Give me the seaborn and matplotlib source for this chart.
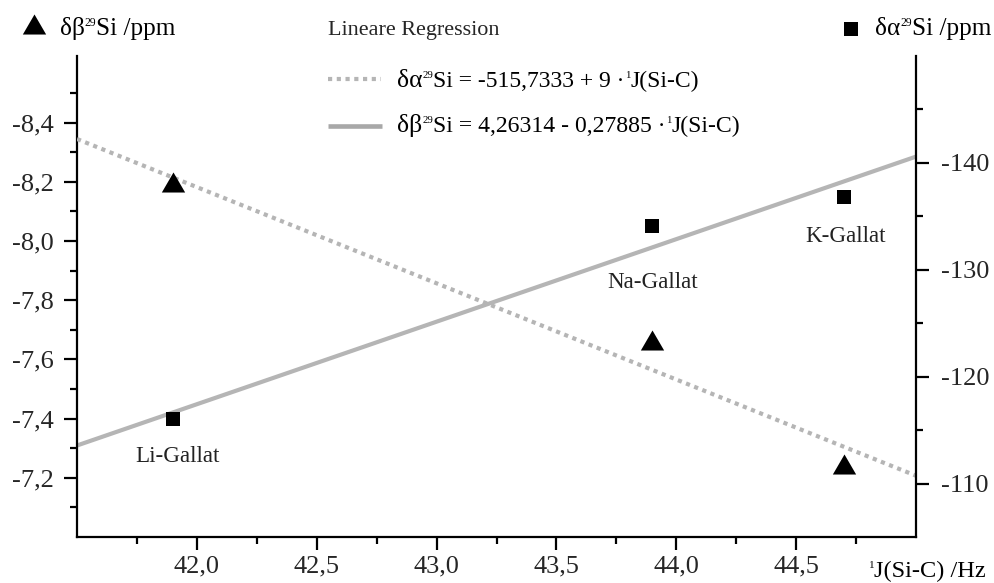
import numpy as np
import pandas as pd
import matplotlib
matplotlib.use("Agg")
import matplotlib.pyplot as plt
import seaborn as sns
from matplotlib.lines import Line2D
from matplotlib.ticker import FixedLocator, FuncFormatter

# Coupling constants 1J(Si-C) of the three gallates (Hz)
salts = ["Li-Gallat", "Na-Gallat", "K-Gallat"]
j_sic = [41.9, 43.9, 44.7]
# 29Si shifts (ppm): squares read on the left scale, triangles on the right scale
square_shift = [-7.40, -8.05, -8.15]
triangle_shift = [-138.2, -123.4, -111.8]

# Linear regressions: intercept, slope
alpha_fit = (-515.7333, 9.0)
beta_fit = (4.26314, -0.27885)
j_range = [41.5, 45.0]

left_ticks = [-8.4, -8.2, -8.0, -7.8, -7.6, -7.4, -7.2]
left_minor = [-8.5, -8.3, -8.1, -7.9, -7.7, -7.5, -7.3, -7.1]
right_ticks = [-140, -130, -120, -110]
right_minor = [-145, -135, -125, -115]
x_ticks = [42.0, 42.5, 43.0, 43.5, 44.0, 44.5]
x_minor = [41.75, 42.25, 42.75, 43.25, 43.75, 44.25, 44.75]

sns.set_style("ticks")
plt.rcParams["font.family"] = ["Liberation Serif", "DejaVu Serif"]
plt.rcParams["axes.unicode_minus"] = False

W, H = 995, 583
fig = plt.figure(figsize=(W / 100, H / 100), dpi=100)
ax = fig.add_axes([77 / W, 1 - 537 / H, (916 - 77) / W, (537 - 56) / H])
ax2 = ax.twinx()
renderer = fig.canvas.get_renderer()


def rich_text(x_px, base_px, parts, size, color="black"):
    """Write text pieces one after another; each piece is (text, scale, rise in em)."""
    x = x_px
    for s, scale, rise in parts:
        y = H - base_px + rise * size * 100 / 72
        t = fig.text(x / W, y / H, s, fontsize=size * scale, va="baseline", ha="left",
                     color=color)
        x = t.get_window_extent(renderer).x1
    return x


SUP = 0.46
RISE = 0.36

fit = pd.DataFrame({"J": j_range})
fit["beta"] = beta_fit[0] + beta_fit[1] * fit["J"]
fit["alpha"] = alpha_fit[0] + alpha_fit[1] * fit["J"]

LINE_GREY = "#b5b5b5"
sns.lineplot(data=fit, x="J", y="beta", ax=ax, color=LINE_GREY, lw=3.0,
             solid_capstyle="butt", zorder=2)
sns.lineplot(data=fit, x="J", y="alpha", ax=ax2, color=LINE_GREY, lw=3.0, zorder=2)
ax2.lines[-1].set_linestyle((0, (1.0, 1.1)))
ax2.lines[-1].set_dash_capstyle("butt")

tri = [(-1.0, -0.86), (1.0, -0.86), (0.0, 0.86)]
pts = pd.DataFrame({"salt": salts, "J": j_sic, "sq": square_shift, "tri": triangle_shift})
sns.scatterplot(data=pts, x="J", y="sq", ax=ax, marker="s", s=104, color="black",
                linewidth=0, zorder=5)
sns.scatterplot(data=pts, x="J", y="tri", ax=ax2, marker=tri, s=282, color="black",
                linewidth=0, zorder=5)

label_offsets = {"Li-Gallat": (5, -43), "Na-Gallat": (0, -62), "K-Gallat": (1, -45)}
for _, r in pts.iterrows():
    ax.annotate(r["salt"], (r["J"], r["sq"]), xytext=label_offsets[r["salt"]],
                textcoords="offset pixels", ha="center", va="baseline",
                fontsize=16.6, color="#222222", zorder=6)

# Scales run toward more negative shifts at the top
ax.set_xlim(41.5, 45.0)
ax.set_ylim(-7.0, -8.625)
ax2.set_ylim(-105, -150)

ax.xaxis.set_major_locator(FixedLocator(x_ticks))
ax.xaxis.set_minor_locator(FixedLocator(x_minor))
ax.yaxis.set_major_locator(FixedLocator(left_ticks))
ax.yaxis.set_minor_locator(FixedLocator(left_minor))
ax2.yaxis.set_major_locator(FixedLocator(right_ticks))
ax2.yaxis.set_minor_locator(FixedLocator(right_minor))

comma1 = FuncFormatter(lambda v, p: f"{v:.1f}".replace(".", ","))
ax.xaxis.set_major_formatter(comma1)
ax.yaxis.set_major_formatter(comma1)
ax2.yaxis.set_major_formatter(FuncFormatter(lambda v, p: f"{v:.0f}"))

for a in (ax, ax2):
    a.set_xlabel("")
    a.set_ylabel("")
    for side in ("left", "right", "bottom", "top"):
        a.spines[side].set_linewidth(1.6)
        a.spines[side].set_color("black")
    a.spines["top"].set_visible(False)
    a.tick_params(which="major", length=9.5, width=1.6, color="black", labelsize=19)
    a.tick_params(which="minor", length=5, width=1.6, color="black")
ax.spines["right"].set_visible(False)
ax2.spines["left"].set_visible(False)
ax2.spines["bottom"].set_visible(False)
ax.tick_params(axis="y", which="major", pad=7)
ax.tick_params(axis="x", which="major", pad=4)
ax2.tick_params(axis="y", which="major", pad=8.5)

# Axis captions with their marker symbols
fig.add_artist(Line2D([34 / W], [1 - 24 / H], marker=tri, markersize=16.8, color="black",
                      markeredgewidth=0, linestyle="none", transform=fig.transFigure))
rich_text(60, 35, [("δβ", 1, 0), ("29", SUP, RISE), ("Si /ppm", 1, 0)], 18.2)
fig.add_artist(Line2D([850.5 / W], [1 - 29 / H], marker="s", markersize=9.4, color="black",
                      markeredgewidth=0, linestyle="none", transform=fig.transFigure))
rich_text(875, 35, [("δα", 1, 0), ("29", SUP, RISE), ("Si /ppm", 1, 0)], 18.2)
rich_text(868, 577, [("1", SUP, RISE), ("J(Si-C) /Hz", 1, 0)], 17.6)

# Regression key
fig.text(328 / W, 1 - 35 / H, "Lineare Regression", fontsize=15.9, va="baseline")
fig.add_artist(Line2D([328 / W, 381 / W], [1 - 79 / H, 1 - 79 / H], color=LINE_GREY, lw=3.0,
                      linestyle=(0, (1.0, 1.1)), dash_capstyle="butt", transform=fig.transFigure))
fig.add_artist(Line2D([328 / W, 382 / W], [1 - 126 / H, 1 - 126 / H], color="#a8a8a8", lw=3.3,
                      solid_capstyle="butt", transform=fig.transFigure))
rich_text(397, 87, [("δα", 1.08, 0), ("29", SUP, RISE), ("Si = -515,7333 + 9 ·", 1, 0),
                    ("1", SUP, RISE), ("J(Si-C)", 1, 0)], 17)
rich_text(397, 132, [("δβ", 1.08, 0), ("29", SUP, RISE), ("Si = 4,26314 - 0,27885 ·", 1, 0),
                     ("1", SUP, RISE), ("J(Si-C)", 1, 0)], 17.1)

fig.savefig("out.png", dpi=100)
